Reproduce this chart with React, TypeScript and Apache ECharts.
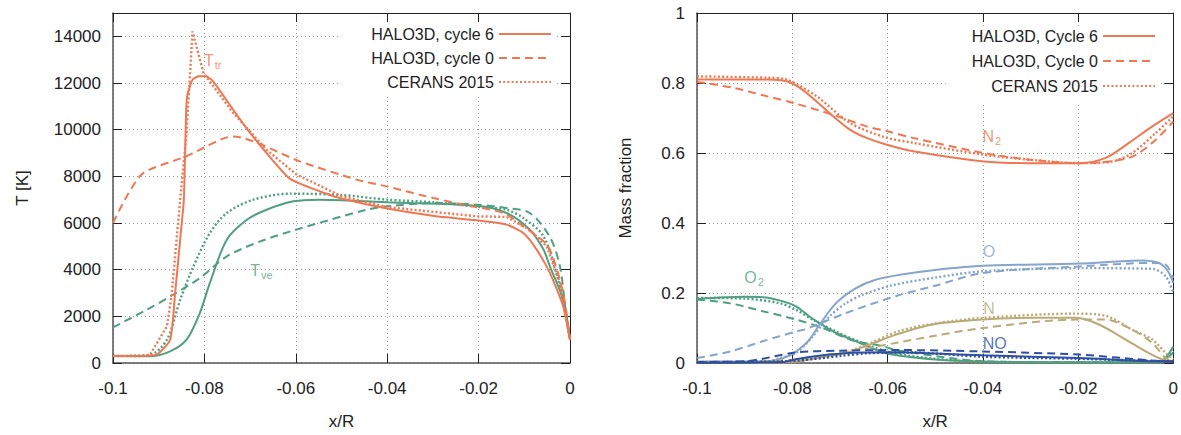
import { useEffect, useRef } from 'react';
import * as echarts from 'echarts';

const FONT = 'Liberation Sans, Arial, Helvetica, sans-serif';
const TXT = '#222';

const ORANGE = '#EE7853';
const GREEN = '#4F9F80';
const LBLUE = '#86A4CC';
const TAN = '#BBA976';
const DBLUE = '#2F4FA0';

// ---------- Left panel: temperatures (x/R, T [K]) ----------
const tTrCycle6: number[][] = [
  [-0.1, 300], [-0.094, 300], [-0.0905, 356], [-0.0875, 1000], [-0.0864, 3000], [-0.0852, 5500],
  [-0.0845, 7000], [-0.0841, 10000], [-0.0838, 11400], [-0.0826, 12140], [-0.0812, 12290],
  [-0.0797, 12290], [-0.0781, 12070], [-0.0737, 10855], [-0.07, 9860], [-0.0664, 9000],
  [-0.0613, 7900], [-0.0547, 7350], [-0.05, 7050], [-0.04, 6620], [-0.0297, 6300],
  [-0.0204, 6115], [-0.0139, 5930], [-0.0102, 5570], [-0.0073, 4860], [-0.0044, 3860],
  [-0.0015, 2430], [0, 1000],
];
const tTrCycle0: number[][] = [
  [-0.1, 6000], [-0.097, 7140], [-0.0934, 8140], [-0.0839, 8860], [-0.0737, 9710],
  [-0.0591, 8640], [-0.0467, 7860], [-0.04, 7560], [-0.0299, 7070], [-0.0233, 6785],
  [-0.0146, 6430], [-0.0102, 5855], [-0.0048, 5000], [-0.0015, 3000], [0, 1000],
];
const tTrCerans: number[][] = [
  [-0.1, 300], [-0.094, 300], [-0.0919, 356], [-0.0882, 1570], [-0.0872, 2860], [-0.0853, 7000],
  [-0.0839, 9860], [-0.0826, 14210], [-0.0802, 12430], [-0.0737, 10715], [-0.0664, 9140],
  [-0.0598, 8070], [-0.05, 7150], [-0.04, 6685], [-0.0204, 6285], [-0.0139, 6260],
  [-0.0088, 5710], [-0.0051, 5000], [-0.0022, 3430], [0, 1000],
];
const tVeCycle6: number[][] = [
  [-0.1, 300], [-0.0919, 290], [-0.0875, 500], [-0.0839, 1000], [-0.081, 2140], [-0.0788, 3430],
  [-0.0751, 5285], [-0.0707, 6140], [-0.0664, 6570], [-0.0605, 6930], [-0.055, 7000],
  [-0.05, 6980], [-0.04, 6885], [-0.0204, 6740], [-0.0139, 6430], [-0.0088, 5710],
  [-0.0058, 4860], [-0.0044, 4140], [-0.0015, 2710], [0, 1000],
];
const tVeCycle0: number[][] = [
  [-0.1, 1525], [-0.0926, 2285], [-0.0868, 2930], [-0.081, 3640], [-0.0751, 4570],
  [-0.0678, 5210], [-0.0605, 5680], [-0.0445, 6570], [-0.04, 6715], [-0.0292, 6860],
  [-0.0204, 6785], [-0.0139, 6640], [-0.0088, 6430], [-0.0044, 5400], [-0.0022, 4140],
  [-0.0008, 2000], [0, 1000],
];
const tVeCerans: number[][] = [
  [-0.1, 300], [-0.0919, 350], [-0.0882, 1000], [-0.0853, 2710], [-0.0824, 4140],
  [-0.0788, 5570], [-0.0751, 6430], [-0.0693, 7000], [-0.0612, 7257], [-0.05, 7200],
  [-0.04, 7000], [-0.03, 6890], [-0.0204, 6700], [-0.0139, 6570], [-0.0102, 6210],
  [-0.0058, 5430], [-0.0025, 3500], [0, 1000],
];

// ---------- Right panel: mass fractions ----------
const n2Cycle6: number[][] = [
  [-0.1, 0.81], [-0.085, 0.81], [-0.0812, 0.805], [-0.0784, 0.786], [-0.0749, 0.747],
  [-0.0714, 0.705], [-0.0679, 0.667], [-0.0644, 0.643], [-0.0605, 0.625], [-0.0546, 0.605],
  [-0.0398, 0.576], [-0.0302, 0.571], [-0.0197, 0.571], [-0.0142, 0.586], [-0.0093, 0.629],
  [-0.0044, 0.676], [0, 0.714],
];
const n2Cycle0: number[][] = [
  [-0.1, 0.803], [-0.0923, 0.786], [-0.0853, 0.762], [-0.0798, 0.743], [-0.0714, 0.709],
  [-0.0644, 0.676], [-0.06, 0.662], [-0.0546, 0.643], [-0.0398, 0.6], [-0.0302, 0.581],
  [-0.0197, 0.571], [-0.0093, 0.586], [-0.0044, 0.629], [0, 0.69],
];
const n2Cerans: number[][] = [
  [-0.1, 0.819], [-0.085, 0.815], [-0.0812, 0.81], [-0.0749, 0.762], [-0.0679, 0.686],
  [-0.0605, 0.645], [-0.0546, 0.629], [-0.0398, 0.595], [-0.0302, 0.581], [-0.0197, 0.571],
  [-0.0128, 0.576], [-0.0086, 0.6], [-0.0037, 0.657], [0, 0.705],
];
const o2Cycle6: number[][] = [
  [-0.1, 0.183], [-0.09, 0.189], [-0.0862, 0.188], [-0.0827, 0.179], [-0.0792, 0.162],
  [-0.0764, 0.133], [-0.0743, 0.114], [-0.0708, 0.086], [-0.0666, 0.062], [-0.0625, 0.038],
  [-0.059, 0.024], [-0.05, 0.01], [-0.04, 0.004], [-0.02, 0.002], [-0.003, 0.003], [0, 0.047],
];
const o2Cycle0: number[][] = [
  [-0.1, 0.181], [-0.0932, 0.171], [-0.0862, 0.148], [-0.0792, 0.124], [-0.0736, 0.1],
  [-0.0687, 0.071], [-0.0666, 0.062], [-0.061, 0.048], [-0.059, 0.04], [-0.0546, 0.029],
  [-0.0398, 0.005], [-0.02, 0.002], [-0.003, 0.003], [0, 0.03],
];
const o2Cerans: number[][] = [
  [-0.1, 0.186], [-0.09, 0.184], [-0.0827, 0.171], [-0.0792, 0.152], [-0.0757, 0.124],
  [-0.0708, 0.09], [-0.0652, 0.057], [-0.059, 0.029], [-0.05, 0.012], [-0.04, 0.004],
  [-0.02, 0.002], [-0.003, 0.003], [0, 0.035],
];
const oCycle6: number[][] = [
  [-0.1, 0.004], [-0.085, 0.005], [-0.0813, 0.017], [-0.0792, 0.033], [-0.0764, 0.067],
  [-0.0743, 0.109], [-0.0708, 0.171], [-0.0666, 0.214], [-0.0625, 0.238], [-0.057, 0.253],
  [-0.05, 0.266], [-0.04, 0.278], [-0.0197, 0.284], [-0.0065, 0.293],
  [-0.003, 0.286], [-0.0011, 0.262], [0, 0.229],
];
const oCycle0: number[][] = [
  [-0.1, 0.014], [-0.093, 0.033], [-0.0862, 0.062], [-0.0792, 0.09], [-0.0771, 0.097],
  [-0.0687, 0.143], [-0.058, 0.192], [-0.0505, 0.219], [-0.04, 0.257],
  [-0.0197, 0.276], [-0.0044, 0.286], [-0.0015, 0.28], [0, 0.243],
];
const oCerans: number[][] = [
  [-0.1, 0.003], [-0.085, 0.005], [-0.0827, 0.014], [-0.0792, 0.029], [-0.0757, 0.076],
  [-0.0722, 0.133], [-0.0687, 0.171], [-0.0652, 0.195], [-0.059, 0.222], [-0.05, 0.244],
  [-0.04, 0.262], [-0.0197, 0.271], [-0.0044, 0.269], [-0.0016, 0.248], [0, 0.2],
];
const nCycle6: number[][] = [
  [-0.1, 0.002], [-0.08, 0.003], [-0.0757, 0.012], [-0.0687, 0.029], [-0.0639, 0.052],
  [-0.0582, 0.081], [-0.0505, 0.11], [-0.04, 0.124], [-0.0295, 0.129], [-0.0204, 0.129],
  [-0.0156, 0.11], [-0.01, 0.067], [-0.0058, 0.033], [-0.0023, 0.01], [0, 0.005],
];
const nCycle0: number[][] = [
  [-0.1, 0.002], [-0.09, 0.004], [-0.0792, 0.01], [-0.0722, 0.024], [-0.0652, 0.04],
  [-0.058, 0.058], [-0.05, 0.078], [-0.04, 0.1], [-0.0204, 0.124], [-0.0142, 0.124],
  [-0.0086, 0.095], [-0.0044, 0.057], [-0.0016, 0.014], [0, 0.005],
];
const nCerans: number[][] = [
  [-0.1, 0.002], [-0.08, 0.003], [-0.0757, 0.012], [-0.0687, 0.031], [-0.0639, 0.055],
  [-0.0574, 0.092], [-0.05, 0.113], [-0.04, 0.129], [-0.0204, 0.141], [-0.0142, 0.135],
  [-0.0086, 0.095], [-0.0044, 0.067], [-0.0016, 0.029], [0, 0.01],
];
const noCycle6: number[][] = [
  [-0.1, 0.001], [-0.082, 0.003], [-0.0792, 0.011], [-0.0722, 0.024], [-0.0652, 0.03],
  [-0.058, 0.031], [-0.05, 0.027], [-0.04, 0.022], [-0.0197, 0.014], [-0.0023, 0.005],
  [0, 0.005],
];
const noCycle0: number[][] = [
  [-0.1, 0.003], [-0.09, 0.005], [-0.0792, 0.03], [-0.07, 0.035], [-0.058, 0.037],
  [-0.04, 0.033], [-0.0197, 0.024], [-0.0105, 0.014], [-0.0023, 0.005], [0, 0.004],
];
const noCerans: number[][] = [
  [-0.1, 0.001], [-0.08, 0.006], [-0.07, 0.02], [-0.064, 0.028], [-0.055, 0.03],
  [-0.04, 0.018], [-0.02, 0.012], [0, 0.004],
];

// ---------- Annotations ----------
const leftNotes = [
  { text: '{m|T}{s|tr}', x: -0.0782, y: 12955, color: ORANGE },
  { text: '{m|T}{s|ve}', x: -0.0675, y: 3956, color: GREEN },
];
const rightNotes = [
  { text: '{m|N}{s|2}', x: -0.0381, y: 0.647, color: ORANGE },
  { text: '{m|O}{s|2}', x: -0.088, y: 0.244, color: GREEN },
  { text: '{m|O}', x: -0.0387, y: 0.318, color: LBLUE },
  { text: '{m|N}', x: -0.0387, y: 0.155, color: TAN },
  { text: '{m|NO}', x: -0.0375, y: 0.0552, color: DBLUE },
];

const legendLeft = ['HALO3D, cycle 6', 'HALO3D, cycle 0', 'CERANS 2015'];
const legendRight = ['HALO3D, Cycle 6', 'HALO3D, Cycle 0', 'CERANS 2015'];

const xTickFmt = (v: number) => {
  const r = Math.round(v * 100) / 100;
  return r === 0 ? '0' : String(r);
};

type Kind = 'solid' | 'dashed' | 'dotted';
const styleOf = (k: Kind) =>
  k === 'solid'
    ? { width: 2, type: 'solid' as any }
    : k === 'dashed'
    ? { width: 2, type: [8, 5] as any }
    : { width: 2.4, type: [2, 2.2] as any };

function line(name: string, data: number[][], color: string, kind: Kind, ax: number, smooth: number | boolean = 0.3) {
  return {
    type: 'line',
    name,
    data,
    xAxisIndex: ax,
    yAxisIndex: ax,
    symbol: 'none',
    smooth,
    lineStyle: { color, ...styleOf(kind) },
    itemStyle: { color },
    silent: true,
    z: 3,
  };
}

function notes(list: { text: string; x: number; y: number; color: string }[], ax: number) {
  return list.map((n) => ({
    type: 'scatter',
    xAxisIndex: ax,
    yAxisIndex: ax,
    symbolSize: 1,
    silent: true,
    z: 5,
    itemStyle: { color: 'rgba(0,0,0,0)' },
    data: [[n.x, n.y]],
    label: {
      show: true,
      position: 'inside',
      formatter: n.text,
      rich: {
        m: { fontSize: 16, color: n.color, fontFamily: FONT },
        s: { fontSize: 11, color: n.color, fontFamily: FONT, padding: [9, 0, 0, 1] },
      },
    },
  }));
}

function xAxes(grid: number) {
  return [
    {
      gridIndex: grid,
      type: 'value',
      min: -0.1,
      max: 0,
      interval: 0.02,
      position: 'bottom',
      name: 'x/R',
      nameLocation: 'middle',
      nameGap: 50,
      nameTextStyle: { fontSize: 17, color: TXT, fontFamily: FONT },
      axisLine: { show: true, onZero: false, lineStyle: { color: '#555', width: 1.5 } },
      axisTick: { show: true, inside: true, length: 9, lineStyle: { color: '#222', width: 1 } },
      axisLabel: { margin: 17, fontSize: 17, color: TXT, fontFamily: FONT, formatter: xTickFmt },
      splitLine: { show: true, lineStyle: { color: '#999', width: 1, type: [1, 3] } },
    },
    {
      gridIndex: grid,
      type: 'value',
      min: -0.1,
      max: 0,
      interval: 0.02,
      position: 'top',
      axisLine: { show: true, onZero: false, lineStyle: { color: '#222', width: 1 } },
      axisTick: { show: true, inside: true, length: 9, lineStyle: { color: '#222', width: 1 } },
      axisLabel: { show: false },
      splitLine: { show: false },
    },
  ];
}

function yAxes(grid: number, max: number, interval: number, name: string, nameGap: number, fmt: (v: number) => string) {
  return [
    {
      gridIndex: grid,
      type: 'value',
      min: 0,
      max,
      interval,
      position: 'left',
      name,
      nameLocation: 'middle',
      nameGap,
      nameTextStyle: { fontSize: 17, color: TXT, fontFamily: FONT },
      axisLine: { show: true, onZero: false, lineStyle: { color: '#555', width: 1.5 } },
      axisTick: { show: true, inside: true, length: 9, lineStyle: { color: '#222', width: 1 } },
      axisLabel: { margin: 12, fontSize: 17, color: TXT, fontFamily: FONT, formatter: fmt, showMaxLabel: max === 1 },
      splitLine: { show: true, lineStyle: { color: '#999', width: 1, type: [1, 3] } },
    },
    {
      gridIndex: grid,
      type: 'value',
      min: 0,
      max,
      interval,
      position: 'right',
      axisLine: { show: true, onZero: false, lineStyle: { color: '#222', width: 1 } },
      axisTick: { show: true, inside: true, length: 9, lineStyle: { color: '#222', width: 1 } },
      axisLabel: { show: false },
      splitLine: { show: false },
    },
  ];
}

function legend(data: string[], right: number, top: number, gap: number, padding: number[]) {
  return {
    data,
    orient: 'vertical',
    align: 'right',
    right,
    top,
    itemWidth: 52,
    itemHeight: 14,
    itemGap: gap,
    padding,
    backgroundColor: '#fff',
    selectedMode: false,
    itemStyle: { opacity: 0 },
    textStyle: { fontSize: 16, color: TXT, fontFamily: FONT },
    z: 4,
  };
}

const option: any = {
  animation: false,
  backgroundColor: '#fff',
  grid: [
    { left: 113, top: 13, width: 457, height: 350 },
    { left: 697, top: 13, width: 477, height: 350 },
  ],
  xAxis: [...xAxes(0), ...xAxes(1)],
  yAxis: [
    ...yAxes(0, 15000, 2000, 'T [K]', 82, (v: number) => String(v)),
    ...yAxes(1, 1, 0.2, 'Mass fraction', 63, (v: number) => String(Math.round(v * 10) / 10)),
  ],
  legend: [
    legend(legendLeft, 1181 - 557, 24, 8, [2, 5, 6, 30]),
    legend(legendRight, 1181 - 1161, 26, 9, [2, 5, 8, 26]),
  ],
  series: [
    line('Tve cycle 0', tVeCycle0, GREEN, 'dashed', 0),
    line('Tve CERANS', tVeCerans, GREEN, 'dotted', 0),
    line('Tve cycle 6', tVeCycle6, GREEN, 'solid', 0),
    line('HALO3D, cycle 0', tTrCycle0, ORANGE, 'dashed', 0, 0.25),
    line('CERANS 2015', tTrCerans, ORANGE, 'dotted', 0, false),
    line('HALO3D, cycle 6', tTrCycle6, ORANGE, 'solid', 0, 0.2),
    line('O2 cycle 0', o2Cycle0, GREEN, 'dashed', 2),
    line('O2 CERANS', o2Cerans, GREEN, 'dotted', 2),
    line('O2 cycle 6', o2Cycle6, GREEN, 'solid', 2),
    line('O cycle 0', oCycle0, LBLUE, 'dashed', 2),
    line('O CERANS', oCerans, LBLUE, 'dotted', 2),
    line('O cycle 6', oCycle6, LBLUE, 'solid', 2),
    line('N cycle 0', nCycle0, TAN, 'dashed', 2),
    line('N CERANS', nCerans, TAN, 'dotted', 2),
    line('N cycle 6', nCycle6, TAN, 'solid', 2),
    line('NO cycle 0', noCycle0, DBLUE, 'dashed', 2),
    line('NO CERANS', noCerans, DBLUE, 'dotted', 2),
    line('NO cycle 6', noCycle6, DBLUE, 'solid', 2),
    line('HALO3D, Cycle 0', n2Cycle0, ORANGE, 'dashed', 2),
    line('CERANS 2015', n2Cerans, ORANGE, 'dotted', 2),
    line('HALO3D, Cycle 6', n2Cycle6, ORANGE, 'solid', 2),
    ...notes(leftNotes, 0),
    ...notes(rightNotes, 2),
  ],
};

export default function App() {
  const ref = useRef<HTMLDivElement>(null);
  useEffect(() => {
    if (!ref.current) return;
    const chart = echarts.init(ref.current, null, { renderer: 'svg' });
    chart.setOption(option);
    return () => chart.dispose();
  }, []);
  return (
    <div
      ref={ref}
      style={{ position: 'fixed', left: 0, top: 0, width: 1181, height: 435, background: '#fff' }}
    />
  );
}
